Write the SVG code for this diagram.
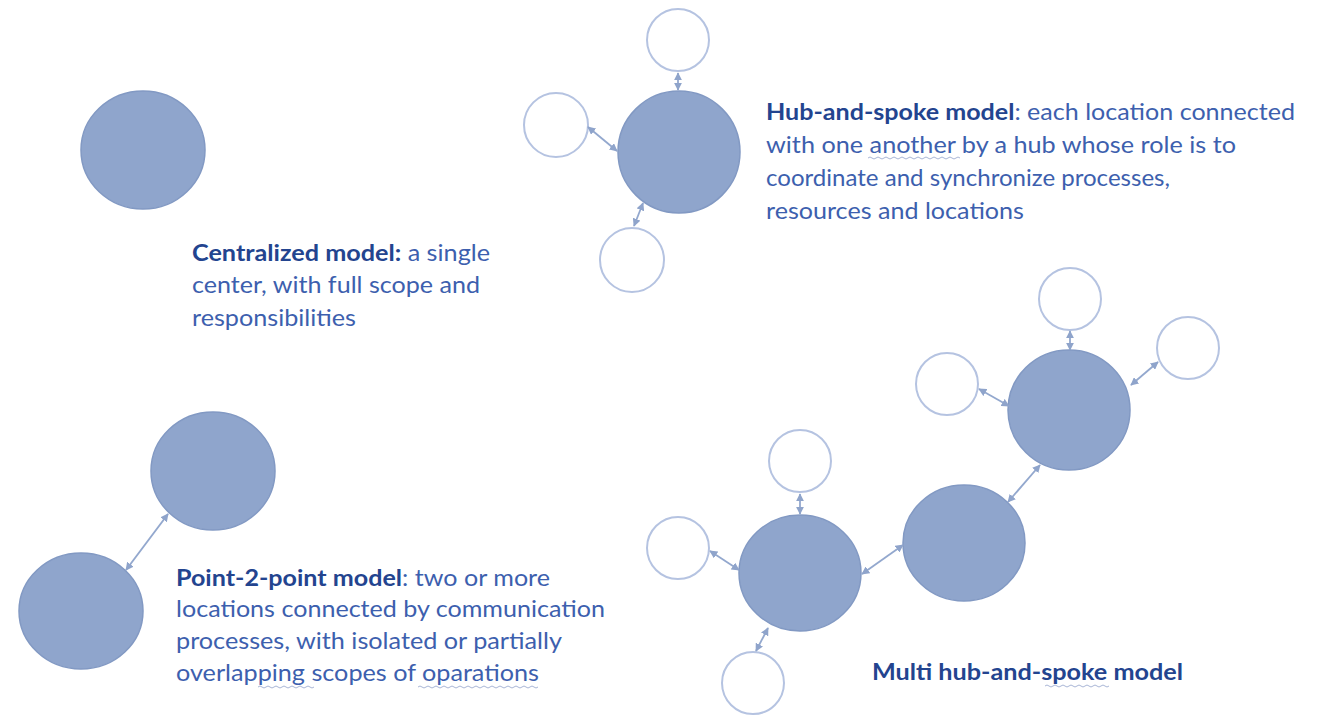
<svg xmlns="http://www.w3.org/2000/svg" width="1322" height="715" viewBox="0 0 1322 715">
<defs>
<marker id="ah" viewBox="0 0 10 10" refX="9" refY="5" markerWidth="4.5" markerHeight="4.5" orient="auto-start-reverse" markerUnits="strokeWidth">
<path d="M0,0 L10,5 L0,10 z" fill="#8FA4CB"/>
</marker>
<style>
.hub{fill:#8FA5CC;stroke:#8299C3;stroke-width:1.5}
.sat{fill:#FFFFFF;stroke:#B5C3E1;stroke-width:2}
.con{stroke:#93A8CE;stroke-width:1.8;fill:none;marker-start:url(#ah);marker-end:url(#ah)}
.t{font-family:Lato,"Liberation Sans",sans-serif;font-size:23px;fill:#3D5FAE}
.b{font-weight:bold;fill:#23448F}
.sq{fill:none;stroke:#A9B6D6;stroke-width:1}
</style>
</defs>
<rect width="1322" height="715" fill="#FFFFFF"/>

<g id="centralized">
<ellipse class="hub" cx="143" cy="150" rx="62" ry="59"/>
<text class="t" x="192" y="261" textLength="298" lengthAdjust="spacingAndGlyphs"><tspan class="b">Centralized model:</tspan> a single</text>
<text class="t" x="192" y="293" textLength="288" lengthAdjust="spacingAndGlyphs">center, with full scope and</text>
<text class="t" x="192" y="326" textLength="164" lengthAdjust="spacingAndGlyphs">responsibilities</text>
</g>

<g id="hub-spoke">
<circle class="sat" cx="678" cy="40" r="31"/>
<circle class="sat" cx="556" cy="125" r="32"/>
<circle class="sat" cx="632" cy="260" r="32"/>
<ellipse class="hub" cx="679" cy="152" rx="61" ry="61"/>
<text class="t" x="766" y="120" textLength="529" lengthAdjust="spacingAndGlyphs"><tspan class="b">Hub-and-spoke model</tspan>: each location connected</text>
<text class="t" x="766" y="153" textLength="470" lengthAdjust="spacingAndGlyphs">with one another by a hub whose role is to</text>
<text class="t" x="766" y="186" textLength="404" lengthAdjust="spacingAndGlyphs">coordinate and synchronize processes,</text>
<text class="t" x="766" y="219" textLength="258" lengthAdjust="spacingAndGlyphs">resources and locations</text>
<path class="sq" d="M868,158 q2,-2 4,0 t4,0 t4,0 t4,0 t4,0 t4,0 t4,0 t4,0 t4,0 t4,0 t4,0 t4,0 t4,0 t4,0 t4,0 t4,0 t4,0 t4,0 t4,0 t4,0 t4,0 t4,0 t4,0"/>
</g>

<g id="point-2-point">
<ellipse class="hub" cx="213" cy="471" rx="62" ry="59"/>
<ellipse class="hub" cx="81" cy="611" rx="62" ry="58"/>
<text class="t" x="176" y="586" textLength="374" lengthAdjust="spacingAndGlyphs"><tspan class="b">Point-2-point model</tspan>: two or more</text>
<text class="t" x="176" y="617" textLength="429" lengthAdjust="spacingAndGlyphs">locations connected by communication</text>
<text class="t" x="176" y="649" textLength="386" lengthAdjust="spacingAndGlyphs">processes, with isolated or partially</text>
<text class="t" x="176" y="681" textLength="363" lengthAdjust="spacingAndGlyphs">overlapping scopes of oparations</text>
<path class="sq" d="M258,687 q2,-2 4,0 t4,0 t4,0 t4,0 t4,0 t4,0 t4,0 t4,0 t4,0 t4,0 t4,0 t4,0 t4,0 t4,0"/>
<path class="sq" d="M418,687 q2,-2 4,0 t4,0 t4,0 t4,0 t4,0 t4,0 t4,0 t4,0 t4,0 t4,0 t4,0 t4,0 t4,0 t4,0 t4,0 t4,0 t4,0 t4,0 t4,0 t4,0 t4,0 t4,0 t4,0 t4,0 t4,0 t4,0 t4,0 t4,0 t4,0 t4,0"/>
</g>

<g id="multi-hub-spoke">
<circle class="sat" cx="800" cy="461" r="31"/>
<circle class="sat" cx="678" cy="548" r="31"/>
<circle class="sat" cx="753" cy="683" r="31"/>
<ellipse class="hub" cx="800" cy="573" rx="61" ry="58"/>
<ellipse class="hub" cx="964" cy="543" rx="61" ry="58"/>
<circle class="sat" cx="1070" cy="299" r="31"/>
<circle class="sat" cx="947" cy="384" r="31"/>
<circle class="sat" cx="1188" cy="348" r="31"/>
<ellipse class="hub" cx="1069" cy="410" rx="61" ry="60"/>
<text class="t b" x="872" y="680" textLength="311" lengthAdjust="spacingAndGlyphs">Multi hub-and-spoke model</text>
<path class="sq" d="M1045,686 q2,-2 4,0 t4,0 t4,0 t4,0 t4,0 t4,0 t4,0 t4,0 t4,0 t4,0 t4,0 t4,0 t4,0 t4,0 t4,0 t4,0"/>
</g>

<g id="connectors">
<line class="con" x1="678" y1="73" x2="678" y2="90"/>
<line class="con" x1="588" y1="127" x2="617" y2="151"/>
<line class="con" x1="643" y1="203" x2="634" y2="226"/>
<line class="con" x1="168" y1="514" x2="126" y2="570"/>
<line class="con" x1="800" y1="494" x2="800" y2="514"/>
<line class="con" x1="710" y1="551" x2="739" y2="570"/>
<line class="con" x1="768" y1="628" x2="756" y2="651"/>
<line class="con" x1="862" y1="574" x2="903" y2="545"/>
<line class="con" x1="1008" y1="502" x2="1040" y2="465"/>
<line class="con" x1="979" y1="389" x2="1009" y2="406"/>
<line class="con" x1="1070" y1="331" x2="1070" y2="350"/>
<line class="con" x1="1158" y1="362" x2="1131" y2="385"/>
</g>
</svg>
